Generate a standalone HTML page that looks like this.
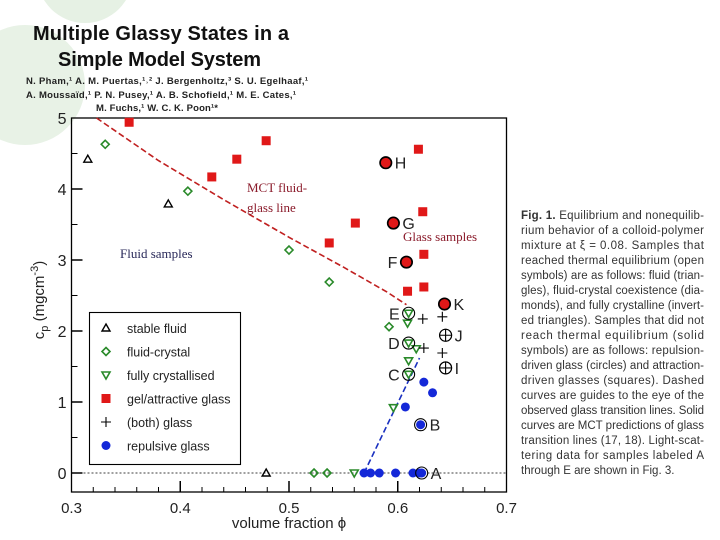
<!DOCTYPE html>
<html><head><meta charset="utf-8"><style>
body{margin:0;width:720px;height:540px;background:#fff;overflow:hidden;position:relative;font-family:"Liberation Sans",sans-serif}
svg{position:absolute;left:0;top:0}
</style></head><body>
<svg width="720" height="540">
<circle cx="85" cy="-25" r="48" fill="#e6f1e4"/>
<circle cx="25" cy="85" r="60" fill="#e8f2e6"/>
<text x="33" y="40" font-size="20" font-weight="bold" fill="#111" textLength="256">Multiple Glassy States in a</text>
<text x="58" y="66" font-size="20" font-weight="bold" fill="#111" textLength="203">Simple Model System</text>
<g font-size="9.5" font-weight="bold" fill="#222">
<text x="26" y="84" textLength="282">N. Pham,¹ A. M. Puertas,¹˒² J. Bergenholtz,³ S. U. Egelhaaf,¹</text>
<text x="26" y="98" textLength="270">A. Moussaïd,¹ P. N. Pusey,¹ A. B. Schofield,¹ M. E. Cates,¹</text>
<text x="96" y="111" textLength="122">M. Fuchs,¹ W. C. K. Poon¹*</text>
</g>
<g font-size="11.5" fill="#333">
<text x="521" y="219" textLength="183"><tspan font-weight="bold">Fig. 1.</tspan> Equilibrium and nonequilib-</text>
<text x="521" y="234" textLength="183">rium behavior of a colloid-polymer</text>
<text x="521" y="249" textLength="183">mixture at ξ = 0.08. Samples that</text>
<text x="521" y="264" textLength="183">reached thermal equilibrium (open</text>
<text x="521" y="279" textLength="183">symbols) are as follows: fluid (trian-</text>
<text x="521" y="294" textLength="183">gles), fluid-crystal coexistence (dia-</text>
<text x="521" y="309" textLength="183">monds), and fully crystalline (invert-</text>
<text x="521" y="324" textLength="183">ed triangles). Samples that did not</text>
<text x="521" y="339" textLength="183">reach thermal equilibrium (solid</text>
<text x="521" y="354" textLength="183">symbols) are as follows: repulsion-</text>
<text x="521" y="369" textLength="183">driven glass (circles) and attraction-</text>
<text x="521" y="384" textLength="183">driven glasses (squares). Dashed</text>
<text x="521" y="399" textLength="183">curves are guides to the eye of the</text>
<text x="521" y="414" textLength="183">observed glass transition lines. Solid</text>
<text x="521" y="429" textLength="183">curves are MCT predictions of glass</text>
<text x="521" y="444" textLength="183">transition lines (17, 18). Light-scat-</text>
<text x="521" y="459" textLength="183">tering data for samples labeled A</text>
<text x="521" y="474">through E are shown in Fig. 3.</text>
</g>
<g id="chart"></g>
</svg>
<script>
const xTicks=[0.3,0.4,0.5,0.6,0.7];
const xTickLabels=["0.3","0.4","0.5","0.6","0.7"];
const yTicks=[0,1,2,3,4,5];
const fluidX=[0.315,0.389,0.479], fluidY=[4.42,3.79,0];
const fcX=[0.331,0.407,0.500,0.537,0.592,0.523,0.535], fcY=[4.63,3.97,3.14,2.69,2.06,0,0];
const crysX=[0.610,0.609,0.610,0.617,0.610,0.610,0.596,0.560], crysY=[2.25,2.11,1.83,1.75,1.58,1.39,0.92,0];
const gelX=[0.353,0.452,0.479,0.429,0.561,0.537,0.619,0.623,0.624,0.609,0.624], gelY=[4.94,4.42,4.68,4.17,3.52,3.24,4.56,3.68,3.08,2.56,2.62];
const gelCX=[0.589,0.596,0.608,0.643], gelCY=[4.37,3.52,2.97,2.38];
const bothX=[0.623,0.641,0.624,0.641], bothY=[2.17,2.2,1.76,1.69];
const bothCX=[0.644,0.644], bothCY=[1.94,1.48];
const repX=[0.624,0.632,0.607,0.621,0.622,0.569,0.575,0.583,0.598,0.614,0.620], repY=[1.28,1.13,0.93,0.68,0,0,0,0,0,0,0];
const labelNames=["A","B","C","D","E","F","G","H","I","J","K"];
const labelX=[0.622,0.621,0.610,0.610,0.610,0.608,0.596,0.589,0.644,0.644,0.643];
const labelY=[0,0.68,1.39,1.83,2.25,2.97,3.52,4.37,1.48,1.94,2.38];
const labelSide=[1,1,-1,-1,-1,-1,1,1,1,1,1];
const redLineX=[0.323,0.38,0.44,0.50,0.55,0.59,0.608], redLineY=[5.0,4.4,3.85,3.32,2.9,2.55,2.37];
const blueLineX=[0.569,0.62], blueLineY=[0,1.62];

const L=71.5,R=506.5,T=118,B=492;
const xs=v=>L+(v-0.3)*1087.5, ys=c=>473-c*71;
const NS="http://www.w3.org/2000/svg", g=document.getElementById('chart');
function mk(t,a,p){const e=document.createElementNS(NS,t);for(const k in a)e.setAttribute(k,a[k]);(p||g).appendChild(e);return e;}
let fr=mk('rect',{x:L,y:T,width:R-L,height:B-T,fill:'none',stroke:'#000','stroke-width':1.3});


let zl=mk('line',{x1:L,x2:R,y1:ys(0),y2:ys(0),stroke:'#000','stroke-dasharray':'2,2','stroke-width':0.8});


xTicks.forEach((v,i)=>{
 if(i>0&&i<4){let t=mk('line',{x1:xs(v),x2:xs(v),y1:B,y2:B-11,stroke:'#000','stroke-width':1.5});
 
 }
 if(i<4)for(let k=1;k<5;k++){let m=mk('line',{x1:xs(v+k*0.02),x2:xs(v+k*0.02),y1:B,y2:B-5,stroke:'#000'});
 
 }
 let tx=mk('text',{x:xs(v),y:B+21,'font-size':15,'text-anchor':'middle',fill:'#222'});tx.textContent=xTickLabels[i];
 
 
});
yTicks.forEach(c=>{
 if(c<5){let t=mk('line',{x1:L,x2:L+11,y1:ys(c),y2:ys(c),stroke:'#000','stroke-width':1.5});
 
 
 let m=mk('line',{x1:L,x2:L+6,y1:ys(c+0.5),y2:ys(c+0.5),stroke:'#000'});
 
 }
 let tx=mk('text',{x:L-5,y:ys(c)+6,'font-size':16,'text-anchor':'end',fill:'#222'});tx.textContent=c;
 
 
});
let xt=mk('text',{x:289,y:528,'font-size':15,'text-anchor':'middle',fill:'#222'});xt.textContent='volume fraction ϕ';


let yt=mk('text',{x:0,y:0,'font-size':15,'text-anchor':'middle',fill:'#222',transform:'translate(44,300) rotate(-90)'});
yt.innerHTML='c<tspan font-size="11" dy="4">p</tspan><tspan dy="-4"> (mgcm</tspan><tspan font-size="11" dy="-6">-3</tspan><tspan dy="6">)</tspan>';


function path(X,Y,col,name){let d=X.map((v,i)=>(i?'L':'M')+xs(v)+','+ys(Y[i])).join(' ');
 let p=mk('path',{d:d,fill:'none',stroke:col,'stroke-width':1.6,'stroke-dasharray':'6,3'});
 
 }
path(redLineX,redLineY,'#c02020','mct-fluid-glass-line');
path(blueLineX,blueLineY,'#1a30c0','repulsive-glass-line');
function sym(type,x,y,p){
 let e;
 if(type==='tri')e=mk('path',{d:`M${x},${y-4}L${x+4},${y+3}L${x-4},${y+3}Z`,fill:'none',stroke:'#000','stroke-width':1.4},p);
 else if(type==='dia')e=mk('path',{d:`M${x},${y-4}L${x+4},${y}L${x},${y+4}L${x-4},${y}Z`,fill:'none',stroke:'#2a8a2a','stroke-width':1.6},p);
 else if(type==='itri')e=mk('path',{d:`M${x-4},${y-3}L${x+4},${y-3}L${x},${y+4}Z`,fill:'none',stroke:'#2a8a2a','stroke-width':1.6},p);
 else if(type==='sq')e=mk('rect',{x:x-4.5,y:y-4.5,width:9,height:9,fill:'#e01818'},p);
 else if(type==='plus')e=mk('path',{d:`M${x-5},${y}H${x+5}M${x},${y-5}V${y+5}`,stroke:'#000','stroke-width':1.1},p);
 else if(type==='dot')e=mk('circle',{cx:x,cy:y,r:4.5,fill:'#1428d8'},p);
 return e;}
function series(type,X,Y,name){X.forEach((v,i)=>{let e=sym(type,xs(v),ys(Y[i]));
 
 });}
series('tri',fluidX,fluidY,'stable-fluid-point');
series('dia',fcX,fcY,'fluid-crystal-point');
series('itri',crysX,crysY,'crystallised-point');
series('sq',gelX,gelY,'gel-glass-point');
series('plus',bothX,bothY,'both-glass-point');
series('dot',repX,repY,'repulsive-glass-point');
gelCX.forEach((v,i)=>{let c=mk('circle',{cx:xs(v),cy:ys(gelCY[i]),r:5.5,fill:'#e01818',stroke:'#000','stroke-width':1.2});
 
 });
bothCX.forEach((v,i)=>{let x=xs(v),y=ys(bothCY[i]);let c=mk('path',{d:`M${x-6},${y}H${x+6}M${x},${y-6}V${y+6}`,stroke:'#000','stroke-width':1.1});
 
 
 let o=mk('circle',{cx:x,cy:y,r:6,fill:'none',stroke:'#000','stroke-width':1.1});
 
 });
labelNames.forEach((n,i)=>{let x=xs(labelX[i]),y=ys(labelY[i]);
 let o=mk('circle',{cx:x,cy:y,r:6,fill:'none',stroke:'#000','stroke-width':1.1});
 
 
 let t=mk('text',{x:x+labelSide[i]*9,y:y+6,'font-size':16,'text-anchor':labelSide[i]>0?'start':'end',fill:'#222'});t.textContent=n;
 
 });
let lg=mk('g',{});


mk('rect',{x:89.5,y:312.5,width:151,height:152,fill:'#fff',stroke:'#000','stroke-width':1.1},lg);
const legTypes=['tri','dia','itri','sq','plus','dot'];
const legLabels=['stable fluid','fluid-crystal','fully crystallised','gel/attractive glass','(both) glass','repulsive glass'];
legTypes.forEach((tp,i)=>{let y=328+i*23.5;let s=sym(tp,106,y,lg);
 
 
 let t=mk('text',{x:127,y:y+5,'font-size':12.5,fill:'#222'},lg);t.textContent=legLabels[i];
 
 });
function ann(txt,x,y,col,name){let t=mk('text',{x:x,y:y,'font-size':13,'font-family':'Liberation Serif,serif',fill:col});t.textContent=txt;
 
 }
ann('MCT fluid-',247,192,'#8a1a2a','mct-annotation-1');
ann('glass line',247,212,'#8a1a2a','mct-annotation-2');
ann('Fluid samples',120,258,'#2a2a5a','fluid-samples-annotation');
ann('Glass samples',403,241,'#8a1a2a','glass-samples-annotation');
</script>
</body></html>
